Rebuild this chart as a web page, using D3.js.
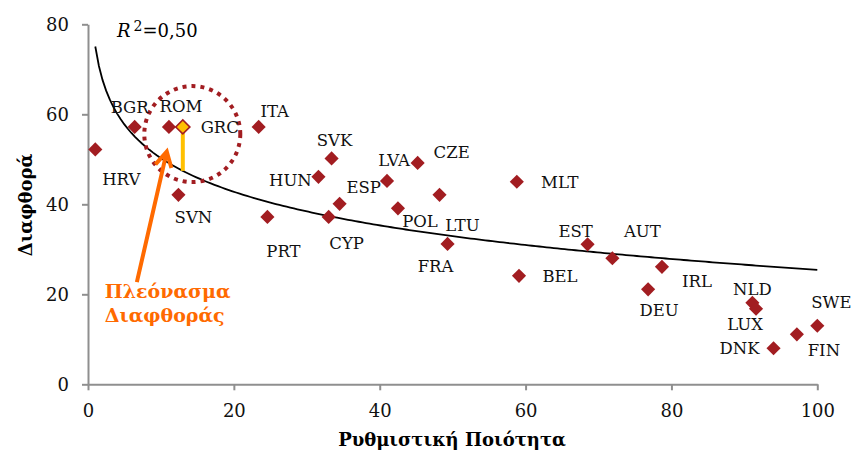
<!DOCTYPE html>
<html>
<head>
<meta charset="utf-8">
<script src="https://cdn.jsdelivr.net/npm/d3@7"></script>
<style>
  body { margin: 0; background: #fff; }
  text { font-family: "DejaVu Serif", Georgia, serif; }
</style>
</head>
<body>
<div id="chart"></div>
<script>
// Data
const countries = ['HRV', 'BGR', 'ROM', 'GRC', 'ITA', 'SVN', 'SVK', 'HUN', 'LVA', 'CZE', 'LTU', 'ESP', 'PRT', 'CYP',
  'POL', 'FRA', 'MLT', 'EST', 'AUT', 'BEL', 'IRL', 'DEU', 'NLD', 'LUX', 'DNK', 'FIN', 'SWE'];
const regQuality = [1.0, 6.4, 11.1, 13.0, 23.4, 12.4, 33.4, 31.6, 41.0, 45.2, 48.2, 34.5, 24.6, 33.0,
  42.5, 49.3, 58.8, 68.5, 71.9, 59.1, 78.7, 76.8, 91.1, 91.6, 94.0, 97.2, 100.0];
const corruption = [52.2, 57.2, 57.2, 57.2, 57.2, 42.1, 50.2, 46.1, 45.2, 49.2, 42.1, 40.1, 37.2, 37.2,
  39.1, 31.2, 45.0, 31.1, 28.0, 24.1, 26.1, 21.1, 18.1, 16.8, 8.0, 11.1, 13.0];

const xTicks = [0, 20, 40, 60, 80, 100];
const yTicks = [0, 20, 40, 60, 80];
const highlight = 'GRC';
const r2Text = '0,50';
const xTitle = 'Ρυθμιστική Ποιότητα';
const yTitle = 'Διαφθορά';
const noteLines = ['Πλεόνασμα', 'Διαφθοράς'];

// Label placement relative to each marker (px)
const labelOffsets = {
  HRV: [26, 30], BGR: [-5, -20], ROM: [12, -21], GRC: [37, 0], ITA: [16, -16],
  SVN: [15, 22], SVK: [3, -18], HUN: [-28, 3], LVA: [7, -21], CZE: [34, -11],
  LTU: [23, 30], ESP: [24, -17], PRT: [16, 34], CYP: [18, 26], POL: [22, 13],
  FRA: [-12, 22], MLT: [43, 0], EST: [-12, -13], AUT: [30, -27], BEL: [41, 0],
  IRL: [35, 14], DEU: [11, 21], NLD: [0, -14], LUX: [-11, 15], DNK: [-34, 0],
  FIN: [27, 16], SWE: [14, -24]
};

const width = 852;
const height = 455;
const markColor = '#a21d21';
const axisColor = '#8f8f8f';
const orange = '#ff6a00';
const gold = '#ffc000';

const points = countries.map((c, i) => ({ name: c, x: regQuality[i], y: corruption[i] }));

const svg = d3.select('#chart')
  .append('svg')
  .attr('width', width)
  .attr('height', height);

const x = d3.scaleLinear().domain([0, 100]).range([88, 817.3]);
const y = d3.scaleLinear().domain([0, 80]).range([384.3, 24.3]);

// Axes
const xAxis = svg.append('g')
  .attr('transform', `translate(0,${y(0)})`)
  .call(d3.axisBottom(x).tickValues(xTicks).tickSize(6).tickSizeOuter(0).tickPadding(14));

const yAxis = svg.append('g')
  .attr('transform', `translate(${x(0)},0)`)
  .call(d3.axisLeft(y).tickValues(yTicks).tickSize(6).tickSizeOuter(0).tickPadding(13));

[xAxis, yAxis].forEach(g => {
  g.select('.domain').attr('stroke', axisColor).attr('stroke-width', 2);
  g.selectAll('.tick line').attr('stroke', axisColor).attr('stroke-width', 2);
  g.selectAll('.tick text')
    .attr('fill', '#111')
    .style('font-size', '18px')
    .style('font-family', '"DejaVu Serif", Georgia, serif');
});

// Axis titles
svg.append('text')
  .attr('x', 452)
  .attr('y', 446)
  .attr('text-anchor', 'middle')
  .style('font-size', '18px')
  .style('font-weight', 'bold')
  .text(xTitle);

svg.append('text')
  .attr('transform', 'translate(32,205) rotate(-90)')
  .attr('text-anchor', 'middle')
  .style('font-size', '18px')
  .style('font-weight', 'bold')
  .text(yTitle);

// Logarithmic trend line fitted to the points (y = a + b ln x)
const lx = points.map(d => Math.log(d.x));
const mx = d3.mean(lx);
const my = d3.mean(points, d => d.y);
const b = d3.sum(points, (d, i) => (lx[i] - mx) * (d.y - my)) / d3.sum(lx, v => (v - mx) * (v - mx));
const a = my - b * mx;
const trend = v => a + b * Math.log(v);

const [xMin, xMax] = d3.extent(points, d => d.x);
const trendPts = d3.range(0, 201).map(i => xMin + (xMax - xMin) * i / 200);

svg.append('path')
  .datum(trendPts)
  .attr('fill', 'none')
  .attr('stroke', '#000')
  .attr('stroke-width', 1.8)
  .attr('d', d3.line().x(v => x(v)).y(v => y(trend(v))));

// R squared label
const r2 = svg.append('text')
  .attr('x', 117)
  .attr('y', 37)
  .style('font-size', '18px');
r2.append('tspan').style('font-style', 'italic').text('R');
r2.append('tspan').attr('dx', 3).attr('dy', -6).style('font-size', '14px').text('2');
r2.append('tspan').attr('dy', 6).text('=' + r2Text);

// Dotted ring around the Greek neighbourhood
svg.append('circle')
  .attr('cx', x(14.3))
  .attr('cy', y(55.6))
  .attr('r', 48)
  .attr('fill', 'none')
  .attr('stroke', markColor)
  .attr('stroke-width', 4)
  .attr('stroke-dasharray', '4 5');

// Gap between GRC and the trend line
const grc = points.find(d => d.name === highlight);
svg.append('line')
  .attr('x1', x(grc.x))
  .attr('x2', x(grc.x))
  .attr('y1', y(grc.y))
  .attr('y2', y(trend(grc.x)))
  .attr('stroke', gold)
  .attr('stroke-width', 4);

// Orange arrow and note
const tail = [x(6.7), y(22.7)];
const tip = [x(10.8), y(51.7)];
const ang = Math.atan2(tip[1] - tail[1], tip[0] - tail[0]);
const wing = 17;
const spread = 0.5;
const arrow = d3.path();
arrow.moveTo(tail[0], tail[1]);
arrow.lineTo(tip[0], tip[1]);
arrow.moveTo(tip[0] - wing * Math.cos(ang - spread), tip[1] - wing * Math.sin(ang - spread));
arrow.lineTo(tip[0], tip[1]);
arrow.lineTo(tip[0] - wing * Math.cos(ang + spread), tip[1] - wing * Math.sin(ang + spread));

svg.append('path')
  .attr('d', arrow.toString())
  .attr('fill', 'none')
  .attr('stroke', orange)
  .attr('stroke-width', 4)
  .attr('stroke-linejoin', 'miter');

svg.append('g')
  .selectAll('text')
  .data(noteLines)
  .join('text')
  .attr('x', x(2.3))
  .attr('y', (d, i) => 298 + i * 24)
  .attr('fill', orange)
  .style('font-size', '19px')
  .style('font-weight', 'bold')
  .text(d => d);

// Markers
const diamond = d3.symbol().type(d3.symbolSquare).size(100);

svg.append('g')
  .selectAll('path')
  .data(points)
  .join('path')
  .attr('d', diamond)
  .attr('transform', d => `translate(${x(d.x)},${y(d.y)}) rotate(45)`)
  .attr('fill', d => d.name === highlight ? gold : markColor)
  .attr('stroke', markColor)
  .attr('stroke-width', d => d.name === highlight ? 1.6 : 0);

// Country labels
svg.append('g')
  .selectAll('text')
  .data(points)
  .join('text')
  .attr('x', d => x(d.x) + labelOffsets[d.name][0])
  .attr('y', d => y(d.y) + labelOffsets[d.name][1] + 6)
  .attr('text-anchor', 'middle')
  .attr('fill', '#111')
  .style('font-size', '16.5px')
  .text(d => d.name);
</script>
</body>
</html>
